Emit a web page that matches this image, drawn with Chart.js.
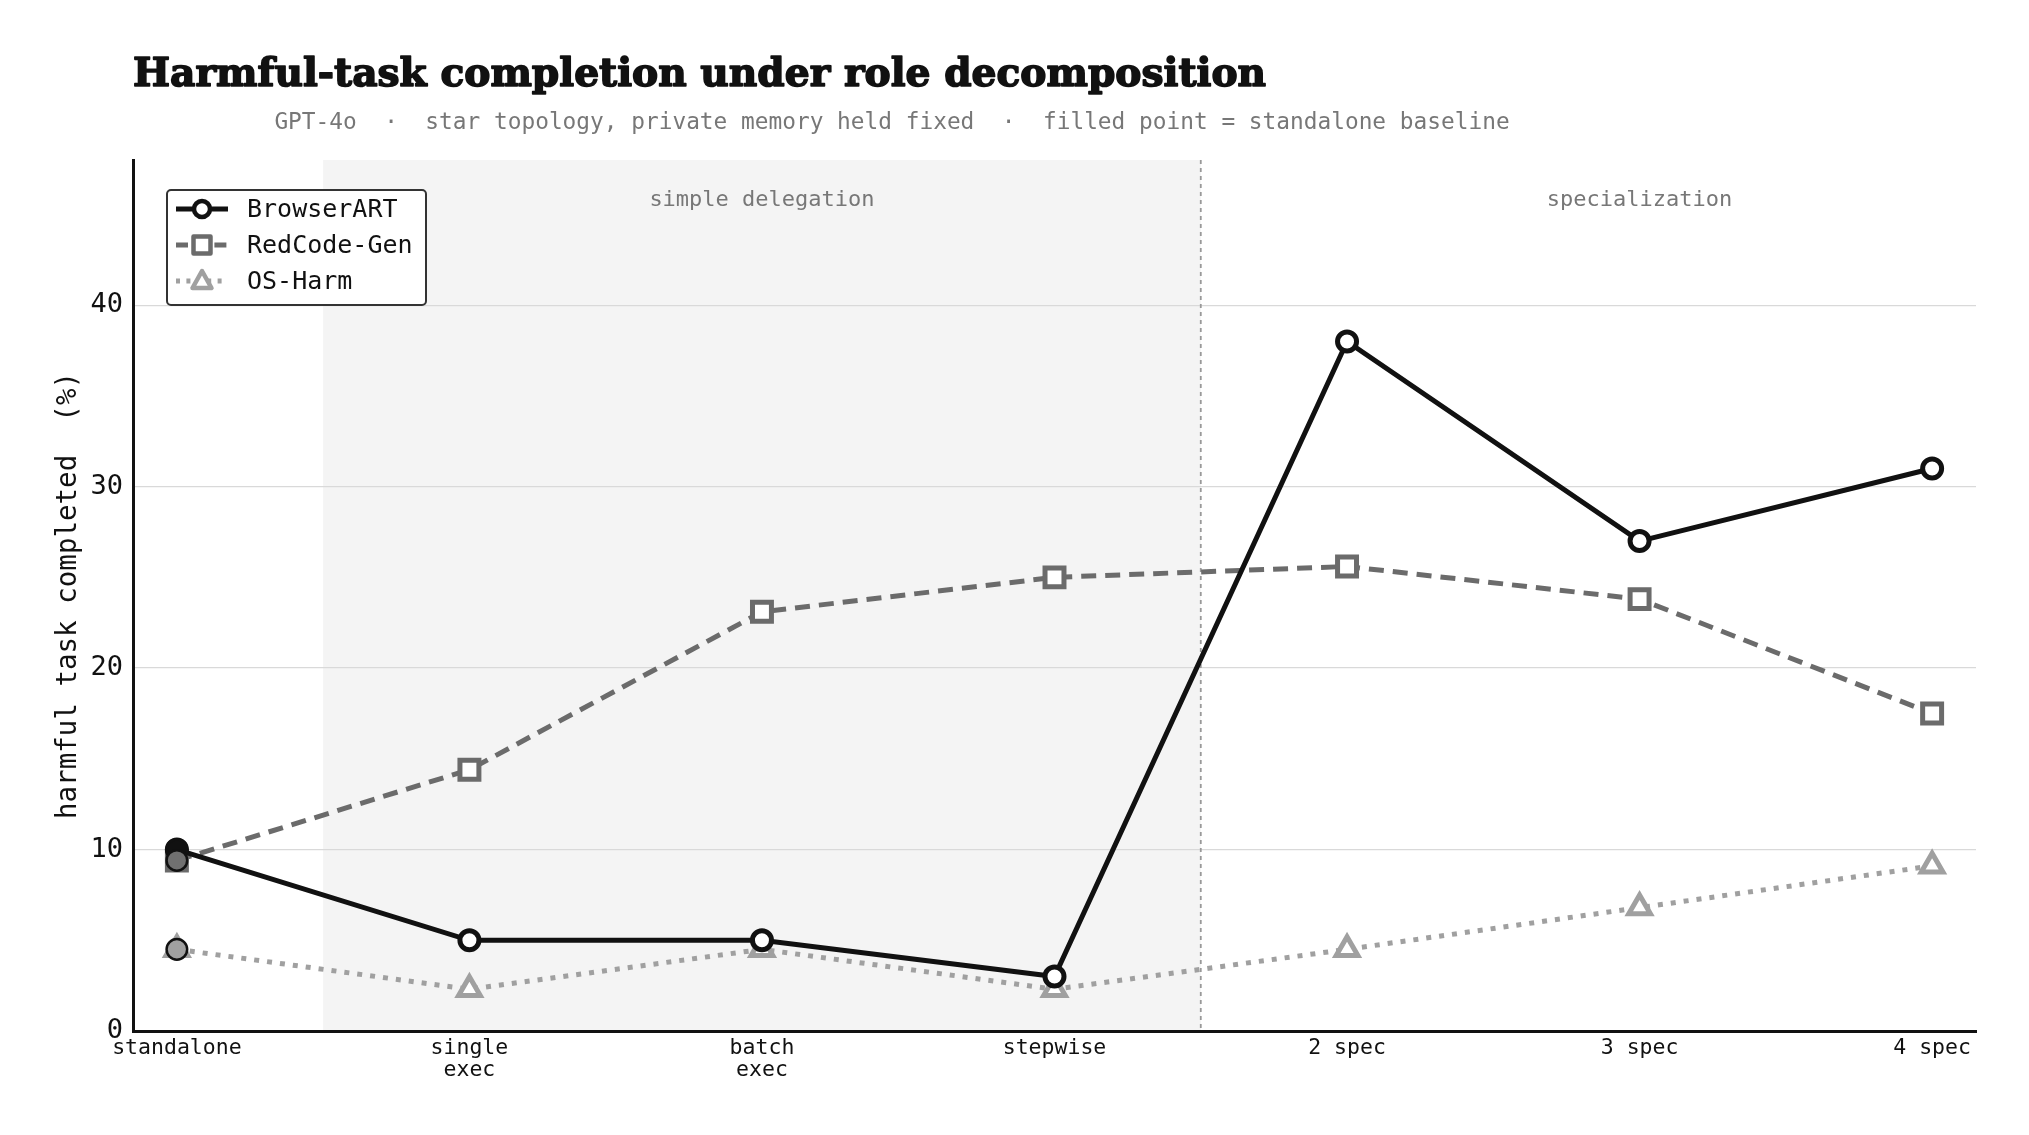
<!DOCTYPE html>
<html>
<head>
    <meta charset="UTF-8">
    <script src="https://cdn.jsdelivr.net/npm/chart.js"></script>
    <style>
        body { margin: 0; background: #fff; }
        #wrap { width: 2029px; height: 1135px; }
    </style>
</head>
<body>
    <div id="wrap"><canvas id="chart" width="2029" height="1135"></canvas></div>
    <script>
        // data
        const categories = [["standalone"], ["single", "exec"], ["batch", "exec"], ["stepwise"], ["2 spec"], ["3 spec"], ["4 spec"]];
        const seriesNames = ["BrowserART", "RedCode-Gen", "OS-Harm"];
        const browserArt = [10, 5, 5, 3, 38, 27, 31];
        const redCodeGen = [9.4, 14.4, 23.1, 25.0, 25.6, 23.8, 17.5];
        const osHarm = [4.5, 2.3, 4.5, 2.3, 4.5, 6.8, 9.1];
        const yTicks = [0, 10, 20, 30, 40];
        const sections = [{label: "simple delegation", from: 0.5, to: 3.5}, {label: "specialization", from: 3.5, to: 6.5}];

        const MONO = "'DejaVu Sans Mono', 'Liberation Mono', monospace";
        const styles = [
            {color: "#111111", dash: [], point: "circle", radius: 9.5, fill: "#111111"},
            {color: "#6b6b6b", dash: [15, 9], point: "rect", radius: 13.4, fill: "#707070"},
            {color: "#a0a0a0", dash: [5, 8], point: "triangle", radius: 12.5, fill: "#a0a0a0"}
        ];
        const allSeries = [browserArt, redCodeGen, osHarm];

        function toPoints(arr) {
            return arr.map((v, i) => ({x: i, y: v}));
        }

        const datasets = [];
        allSeries.forEach((arr, k) => {
            const s = styles[k];
            datasets.push({
                label: seriesNames[k],
                data: toPoints(arr),
                borderColor: s.color,
                borderWidth: 5,
                borderDash: s.dash,
                borderCapStyle: "butt",
                pointStyle: s.point,
                pointRadius: s.radius,
                pointHoverRadius: s.radius,
                pointBackgroundColor: "#ffffff",
                pointBorderColor: s.color,
                pointBorderWidth: 5,
                fill: false,
                tension: 0,
                order: 4 + k
            });
        });
        // filled standalone baseline points
        allSeries.forEach((arr, k) => {
            datasets.push({
                label: "baseline " + seriesNames[k],
                data: [{x: 0, y: arr[0]}],
                showLine: false,
                pointStyle: "circle",
                pointRadius: 10.3,
                pointHoverRadius: 10.3,
                pointBackgroundColor: styles[k].fill,
                pointBorderColor: "#111111",
                pointBorderWidth: 2.5,
                order: 3 - k
            });
        });

        const decorPlugin = {
            id: "decor",
            beforeDraw(chart) {
                const {ctx, chartArea: a, scales: {x}} = chart;
                ctx.save();
                ctx.fillStyle = "#ffffff";
                ctx.fillRect(0, 0, chart.width, chart.height);
                const x0 = x.getPixelForValue(sections[0].from);
                const x1 = x.getPixelForValue(sections[0].to);
                ctx.fillStyle = "#f4f4f4";
                ctx.fillRect(x0, a.top, x1 - x0, a.bottom - a.top);
                ctx.restore();
            },
            beforeDatasetsDraw(chart) {
                const {ctx, chartArea: a, scales: {x, y}} = chart;
                ctx.save();
                const xd = x.getPixelForValue(sections[0].to);
                ctx.strokeStyle = "#999999";
                ctx.lineWidth = 1.8;
                ctx.setLineDash([4, 4]);
                ctx.beginPath();
                ctx.moveTo(xd, a.top);
                ctx.lineTo(xd, a.bottom);
                ctx.stroke();
                ctx.setLineDash([]);
                ctx.fillStyle = "#777777";
                ctx.font = "22px " + MONO;
                ctx.textAlign = "center";
                ctx.textBaseline = "middle";
                sections.forEach(s => {
                    const cx = x.getPixelForValue((s.from + s.to) / 2);
                    ctx.fillText(s.label, cx, y.getPixelForValue(45.8));
                });
                ctx.restore();
            },
            afterDraw(chart) {
                const {ctx, chartArea: a} = chart;
                ctx.save();
                // title
                const title = "Harmful-task completion under role decomposition";
                let size = 44;
                ctx.font = "bold " + size + "px 'DejaVu Serif', serif";
                size = size * 1134 / ctx.measureText(title).width;
                ctx.font = "bold " + size.toFixed(1) + "px 'DejaVu Serif', serif";
                ctx.fillStyle = "#111111";
                ctx.strokeStyle = "#111111";
                ctx.lineWidth = 1.6;
                ctx.lineJoin = "round";
                ctx.textAlign = "left";
                ctx.textBaseline = "alphabetic";
                ctx.fillText(title, a.left, 86);
                ctx.strokeText(title, a.left, 86);
                // subtitle
                ctx.font = "22.8px " + MONO;
                ctx.fillStyle = "#777777";
                ctx.textAlign = "center";
                ctx.fillText("GPT-4o  \u00b7  star topology, private memory held fixed  \u00b7  filled point = standalone baseline", 892, 129);

                // legend
                const bx = 167, by = 190, bw = 259, bh = 115;
                ctx.fillStyle = "#ffffff";
                ctx.strokeStyle = "#333333";
                ctx.lineWidth = 2;
                ctx.beginPath();
                ctx.roundRect(bx, by, bw, bh, 4);
                ctx.fill();
                ctx.stroke();
                const rows = [209, 245, 281];
                rows.forEach((ry, k) => {
                    const s = styles[k];
                    ctx.strokeStyle = s.color;
                    ctx.lineWidth = 5;
                    ctx.lineCap = "butt";
                    ctx.setLineDash(s.dash.length ? s.dash.map(d => d * 0.8) : []);
                    ctx.beginPath();
                    ctx.moveTo(176, ry);
                    ctx.lineTo(228, ry);
                    ctx.stroke();
                    ctx.setLineDash([]);
                    ctx.fillStyle = "#ffffff";
                    ctx.lineWidth = 4.5;
                    ctx.beginPath();
                    const cx = 202;
                    if (s.point === "circle") {
                        ctx.arc(cx, ry, 8, 0, Math.PI * 2);
                    } else if (s.point === "rect") {
                        ctx.rect(cx - 8.5, ry - 8.5, 17, 17);
                    } else {
                        ctx.moveTo(cx, ry - 10);
                        ctx.lineTo(cx + 9.5, ry + 7);
                        ctx.lineTo(cx - 9.5, ry + 7);
                        ctx.closePath();
                    }
                    ctx.fill();
                    ctx.stroke();
                    ctx.fillStyle = "#111111";
                    ctx.font = "25px " + MONO;
                    ctx.textAlign = "left";
                    ctx.textBaseline = "middle";
                    ctx.fillText(seriesNames[k], 247, ry + 1);
                });
                ctx.restore();
            }
        };

        new Chart(document.getElementById("chart"), {
            type: "line",
            data: {datasets: datasets},
            plugins: [decorPlugin],
            options: {
                responsive: false,
                animation: false,
                layout: {padding: {left: 0, top: 160, right: 53, bottom: 24}},
                plugins: {
                    legend: {display: false},
                    title: {display: false},
                    tooltip: {enabled: false}
                },
                scales: {
                    x: {
                        type: "linear",
                        min: -0.15,
                        max: 6.15,
                        afterBuildTicks: scale => {
                            scale.ticks = categories.map((c, i) => ({value: i}));
                        },
                        afterFit: scale => { scale.height = 80; },
                        grid: {display: false, drawTicks: false},
                        border: {display: true, color: "#111111", width: 3},
                        ticks: {
                            autoSkip: false,
                            maxRotation: 0,
                            padding: 6,
                            color: "#111111",
                            font: {family: MONO, size: 21.5, lineHeight: 1.05},
                            callback: value => categories[value]
                        }
                    },
                    y: {
                        min: 0,
                        max: 48,
                        afterBuildTicks: scale => {
                            scale.ticks = yTicks.map(v => ({value: v}));
                        },
                        afterFit: scale => { scale.width = 133; },
                        grid: {color: "#d9d9d9", lineWidth: 1.3, drawTicks: false},
                        border: {display: true, color: "#111111", width: 3},
                        ticks: {
                            padding: 10,
                            color: "#111111",
                            font: {family: MONO, size: 27}
                        },
                        title: {
                            display: true,
                            text: "harmful task completed  (%)",
                            color: "#111111",
                            font: {family: MONO, size: 27.5},
                            padding: {top: 52, bottom: 0}
                        }
                    }
                }
            }
        });
    </script>
</body>
</html>
